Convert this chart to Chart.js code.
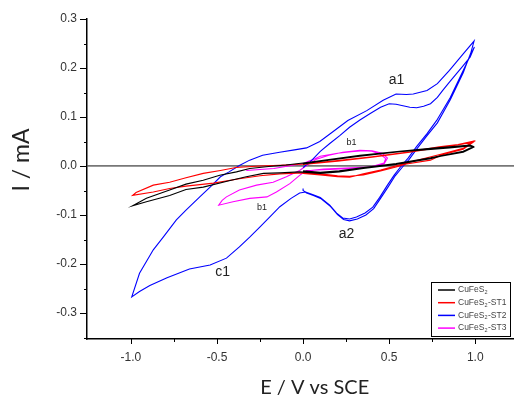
<!DOCTYPE html>
<html>
<head>
<meta charset="utf-8">
<script src="https://cdn.jsdelivr.net/npm/chart.js@4.4.0/dist/chart.umd.min.js"></script>
<style>
  html, body { margin: 0; padding: 0; background: #fff; }
</style>
</head>
<body>
<canvas id="cvChart" width="514" height="398"></canvas>
<script>
// series names (subscript 2 drawn in legend)
const seriesNames = ['CuFeS₂', 'CuFeS₂-ST1', 'CuFeS₂-ST2', 'CuFeS₂-ST3'];

// CuFeS2 (black)
const eBlack = [0.0, 0.15, 0.33, 0.56, 0.74, 0.85, 0.97, 0.99,
  0.93, 0.8, 0.74, 0.54, 0.35, 0.21, 0.1, -0.02, -0.135, -0.23, -0.33, -0.43, -0.58, -0.68, -0.775, -0.91, -0.99,
  -0.91, -0.775, -0.68, -0.58, -0.484, -0.387, -0.31, -0.2, -0.1, 0.0, 0.15, 0.33, 0.56, 0.74, 0.85, 0.97, 0.99,
  0.93, 0.74, 0.54, 0.35, 0.21, 0.1, 0.0];
const iBlack = [0.004, 0.012, 0.02, 0.029, 0.034, 0.037, 0.041, 0.038,
  0.028, 0.02, 0.015, 0.003, -0.005, -0.012, -0.015, -0.012, -0.014, -0.015, -0.022, -0.03, -0.043, -0.048, -0.06, -0.073, -0.081,
  -0.066, -0.049, -0.037, -0.029, -0.019, -0.012, -0.005, -0.001, 0.002, 0.006, 0.013, 0.022, 0.03, 0.036, 0.039, 0.043, 0.04,
  0.03, 0.017, 0.005, -0.003, -0.01, -0.013, -0.01];

// CuFeS2-ST1 (red)
const eRed = [0.0, 0.2, 0.4, 0.62, 0.79, 0.9, 0.99,
  0.93, 0.8, 0.74, 0.6, 0.54, 0.45, 0.35, 0.27, 0.2, 0.1, 0.0, -0.135, -0.25, -0.37, -0.52, -0.68, -0.775, -0.87, -0.99,
  -0.97, -0.87, -0.775, -0.68, -0.58, -0.48, -0.39, -0.25, -0.1, 0.0, 0.2, 0.4, 0.62, 0.79, 0.9, 0.99,
  0.93, 0.8, 0.6, 0.45, 0.35, 0.27, 0.2, 0.1, 0.0];
const iRed = [0.003, 0.01, 0.018, 0.028, 0.038, 0.043, 0.049,
  0.034, 0.022, 0.012, 0.004, -0.002, -0.01, -0.018, -0.021, -0.02, -0.016, -0.014, -0.016, -0.02, -0.026, -0.035, -0.041, -0.046, -0.053, -0.06,
  -0.054, -0.039, -0.033, -0.024, -0.015, -0.009, -0.003, 0.0, 0.002, 0.004, 0.011, 0.019, 0.029, 0.039, 0.044, 0.051,
  0.036, 0.024, 0.006, -0.008, -0.016, -0.023, -0.022, -0.018, -0.015];

// CuFeS2-ST2 (blue)
const eBlue = [0.0, 0.04, 0.1, 0.155, 0.213, 0.27, 0.33, 0.39, 0.45, 0.5, 0.54, 0.58, 0.62, 0.66, 0.70, 0.74, 0.78, 0.81, 0.85, 0.89, 0.93, 0.97, 0.995,
  0.975, 0.93, 0.855, 0.776, 0.72, 0.66, 0.61, 0.57, 0.53, 0.49, 0.445, 0.405, 0.36, 0.31, 0.27, 0.23, 0.195, 0.155, 0.10, 0.055, 0.015, -0.02, -0.07, -0.135, -0.19, -0.25, -0.31, -0.37, -0.445, -0.54, -0.66, -0.79, -0.89, -0.95, -0.995,
  -0.95, -0.87, -0.81, -0.736, -0.68, -0.60, -0.54, -0.48, -0.43, -0.37, -0.31, -0.235, -0.136, -0.05, 0.02, 0.097, 0.173, 0.26, 0.37, 0.465, 0.54, 0.6, 0.64, 0.72, 0.78, 0.85, 0.93, 0.993,
  0.975, 0.93, 0.855, 0.78, 0.72, 0.665, 0.615, 0.575, 0.535, 0.495, 0.45, 0.41, 0.365, 0.315, 0.27, 0.235, 0.2, 0.16, 0.105, 0.06, 0.02, 0.0, 0.0];
const iBlue = [-0.003, 0.008, 0.03, 0.046, 0.062, 0.079, 0.094, 0.107, 0.12, 0.127, 0.126, 0.123, 0.12, 0.119, 0.122, 0.127, 0.14, 0.154, 0.171, 0.188, 0.205, 0.222, 0.243,
  0.228, 0.195, 0.14, 0.093, 0.066, 0.04, 0.016, 0.0, -0.018, -0.039, -0.064, -0.084, -0.096, -0.104, -0.108, -0.106, -0.096, -0.08, -0.064, -0.058, -0.053, -0.055, -0.066, -0.083, -0.103, -0.124, -0.145, -0.165, -0.188, -0.202, -0.21, -0.228, -0.244, -0.256, -0.267,
  -0.219, -0.171, -0.144, -0.11, -0.09, -0.063, -0.043, -0.022, -0.012, 0.001, 0.012, 0.022, 0.028, 0.033, 0.037, 0.05, 0.07, 0.093, 0.113, 0.134, 0.147, 0.146, 0.147, 0.154, 0.168, 0.195, 0.229, 0.255,
  0.232, 0.19, 0.135, 0.088, 0.062, 0.037, 0.013, -0.003, -0.02, -0.042, -0.066, -0.087, -0.1, -0.108, -0.112, -0.109, -0.099, -0.083, -0.067, -0.06, -0.055, -0.05, -0.046];

// CuFeS2-ST3 (magenta)
const ePink = [-0.33, -0.17, 0.0, 0.05, 0.1, 0.2, 0.28, 0.35, 0.4, 0.45, 0.48,
  0.47, 0.39, 0.27, 0.155, 0.02, -0.02, -0.077, -0.155, -0.21, -0.31, -0.407, -0.49,
  -0.47, -0.445, -0.37, -0.27, -0.174, -0.097, -0.02, 0.02, 0.078, 0.15, 0.23, 0.33, 0.4, 0.46, 0.49,
  0.47, 0.38, 0.25, 0.12, 0.03];
const iPink = [-0.009, -0.005, 0.005, 0.012, 0.02, 0.026, 0.029, 0.031, 0.03, 0.024, 0.015,
  0.006, -0.002, -0.005, -0.007, -0.009, -0.019, -0.036, -0.053, -0.063, -0.066, -0.073, -0.08,
  -0.07, -0.063, -0.049, -0.039, -0.033, -0.022, -0.009, 0.001, 0.014, 0.022, 0.028, 0.032, 0.031, 0.026, 0.016,
  0.004, -0.002, -0.004, -0.006, -0.01];

// peak labels
const peakNames = ['a1', 'a2', 'c1', 'b1', 'b1'];
const peakE = [0.543, 0.252, -0.467, 0.281, -0.238];
const peakI = [0.176, -0.139, -0.216, 0.047, -0.085];

const xTickValues = [-1.0, -0.75, -0.5, -0.25, 0.0, 0.25, 0.5, 0.75, 1.0];
const yTickValues = [0.3, 0.25, 0.2, 0.15, 0.1, 0.05, 0.0, -0.05, -0.1, -0.15, -0.2, -0.25, -0.3, -0.35];

function pts(es, is) {
  return es.map((e, k) => ({ x: e, y: is[k] }));
}

const colors = ['#000000', '#ff0000', '#0000ff', '#ff00ff'];
const allData = [pts(eBlack, iBlack), pts(eRed, iRed), pts(eBlue, iBlue), pts(ePink, iPink)];

function drawName(ctx, text, x, y) {
  const parts = text.split('₂');
  ctx.font = '8.5px "Liberation Sans", Arial';
  ctx.fillText(parts[0], x, y);
  let w = ctx.measureText(parts[0]).width;
  if (parts.length > 1) {
    ctx.font = '5.5px "Liberation Sans", Arial';
    ctx.fillText('2', x + w, y + 2.5);
    w += ctx.measureText('2').width + 0.5;
    ctx.font = '8.5px "Liberation Sans", Arial';
    ctx.fillText(parts[1], x + w, y);
  }
}

const decor = {
  id: 'decor',
  afterDatasetsDraw(chart) {
    const { ctx, scales: { x, y } } = chart;
    ctx.save();
    ctx.fillStyle = '#222';
    ctx.textAlign = 'center';
    ctx.textBaseline = 'middle';
    peakNames.forEach((n, k) => {
      ctx.font = n === 'b1' ? '9px "Liberation Sans", Arial' : '14px "Liberation Sans", Arial';
      ctx.fillText(n, x.getPixelForValue(peakE[k]), y.getPixelForValue(peakI[k]));
    });
    ctx.restore();
  },
  afterDraw(chart) {
    const { ctx, chartArea: a, scales: { x, y } } = chart;
    ctx.save();
    // tick marks
    ctx.strokeStyle = '#000';
    ctx.lineWidth = 1;
    ctx.beginPath();
    xTickValues.forEach(v => {
      const px = Math.round(x.getPixelForValue(v)) + 0.5;
      const major = Math.abs(v * 2 - Math.round(v * 2)) < 1e-6;
      ctx.moveTo(px, a.bottom);
      ctx.lineTo(px, a.bottom + (major ? 5 : 3));
    });
    yTickValues.forEach(v => {
      const py = Math.round(y.getPixelForValue(v)) + 0.5;
      const major = Math.abs(v * 10 - Math.round(v * 10)) < 1e-6;
      ctx.moveTo(a.left, py);
      ctx.lineTo(a.left - (major ? 7 : 3), py);
    });
    ctx.stroke();

    // axis titles
    ctx.fillStyle = '#222';
    ctx.textAlign = 'center';
    ctx.textBaseline = 'middle';
    ctx.font = '20px Lato';
    ctx.fillText('E / V vs SCE', 314.7, 388);
    ctx.save();
    ctx.translate(22, 160);
    ctx.rotate(-Math.PI / 2);
    ctx.font = '23px Lato';
    ctx.fillText('I / mA', 0, 0);
    ctx.restore();

    // legend box
    const bx = 431.5, by = 282.5, bw = 79, bh = 54;
    ctx.fillStyle = '#fff';
    ctx.fillRect(bx, by, bw, bh);
    ctx.strokeStyle = '#000';
    ctx.lineWidth = 1;
    ctx.strokeRect(bx, by, bw, bh);
    ctx.textAlign = 'left';
    chart.data.datasets.forEach((ds, k) => {
      const ly = by + 7.5 + k * 12.7;
      ctx.strokeStyle = ds.borderColor;
      ctx.lineWidth = 1.5;
      ctx.beginPath();
      ctx.moveTo(bx + 6.5, ly);
      ctx.lineTo(bx + 23.5, ly);
      ctx.stroke();
      ctx.fillStyle = '#444';
      drawName(ctx, ds.label, bx + 26.5, ly);
    });
    ctx.restore();
  }
};

new Chart(document.getElementById('cvChart').getContext('2d'), {
  type: 'scatter',
  data: {
    datasets: seriesNames.map((n, k) => ({
      label: n,
      data: allData[k],
      showLine: true,
      borderColor: colors[k],
      borderWidth: 1.1,
      pointRadius: 0,
      tension: 0,
      fill: false
    }))
  },
  options: {
    responsive: false,
    animation: false,
    layout: { padding: { top: 19, right: 0, left: 0, bottom: 0 } },
    plugins: { legend: { display: false }, tooltip: { enabled: false } },
    scales: {
      x: {
        type: 'linear',
        min: -1.255,
        max: 1.225,
        afterFit(s) { s.height = 59; },
        grid: { display: false, drawTicks: false },
        border: { display: true, color: '#000', width: 1.5 },
        ticks: {
          stepSize: 0.5,
          includeBounds: false,
          padding: 11,
          color: '#333',
          font: { family: '"Liberation Sans", Arial', size: 12 },
          callback: v => v.toFixed(1)
        }
      },
      y: {
        type: 'linear',
        min: -0.353,
        max: 0.3,
        afterFit(s) { s.width = 87; },
        grid: {
          display: true,
          drawTicks: false,
          color: c => (c.tick && Math.abs(c.tick.value) < 1e-9 ? '#777' : 'rgba(0,0,0,0)'),
          lineWidth: 1.8
        },
        border: { display: true, color: '#000', width: 1.5 },
        ticks: {
          stepSize: 0.1,
          includeBounds: false,
          padding: 10,
          color: '#333',
          font: { family: '"Liberation Sans", Arial', size: 12 },
          callback: v => v.toFixed(1)
        }
      }
    }
  },
  plugins: [decor]
});
</script>
</body>
</html>
